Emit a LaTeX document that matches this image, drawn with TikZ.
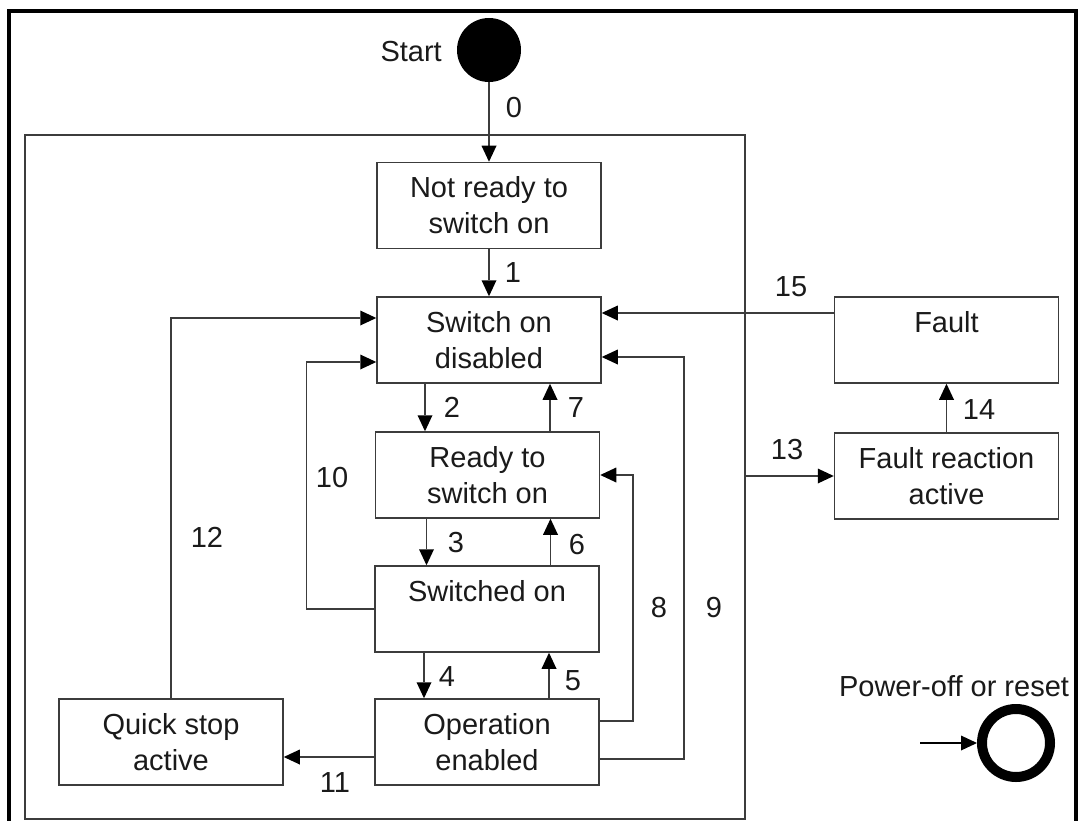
\documentclass[tikz,border=0pt]{standalone}
\usepackage{fontspec}
\setmainfont{Liberation Sans}
\usetikzlibrary{arrows.meta}
\definecolor{ln}{HTML}{3C3C3C}
\definecolor{tx}{HTML}{1A1A1A}
\tikzset{
  box/.style={draw=ln, line width=1.5pt, minimum width=224pt, minimum height=86pt,
    inner sep=0pt, align=center, text=tx, font=\fontsize{29}{36}\selectfont},
  arr/.style={draw=ln, line width=1.5pt, -{Triangle[length=16pt,width=15pt,fill=black,line width=0pt]}},
  lbl/.style={text=tx, font=\fontsize{29}{36}\selectfont, inner sep=0pt},
}
\begin{document}
\begin{tikzpicture}[x=1pt,y=-1pt]
\useasboundingbox (0,0) rectangle (1081,821);
\fill[white] (0,0) rectangle (1081,821);
% outer frame
\draw[line width=4pt] (9,830) -- (9,11) -- (1076,11) -- (1076,830);
% inner frame
\draw[ln, line width=1.5pt] (25,135) rectangle (745,819);
% start
\node[circle, fill=black, minimum size=64pt, inner sep=0pt] (start) at (489,50) {};
\node[lbl, anchor=east] (startlbl) at (442,52) {Start};
% boxes
\node[box] (nr) at (489,205.5) {Not ready to\\switch on};
\node[box] (sod) at (489,340) {Switch on\\disabled};
\node[box] (rts) at (487.5,475) {Ready to\\switch on};
\node[box] (so) at (487,609) {Switched on\\\mbox{}};
\node[box] (oe) at (487,742) {Operation\\enabled};
\node[box] (qsa) at (171,742) {Quick stop\\active};
\node[box] (fault) at (946.5,340) {Fault\\\mbox{}};
\node[box] (fra) at (946.5,476) {Fault reaction\\active};
% transitions
\draw[arr] (start) -- (nr.north);
\draw[arr] (nr.south) -- (nr.south |- sod.north);
\draw[arr] ([xshift=-64pt]sod.south) -- ([xshift=-64pt]sod.south |- rts.north);
\draw[arr] ([xshift=61pt]sod.south |- rts.north) -- ([xshift=61pt]sod.south);
\draw[arr] ([xshift=-61pt]rts.south) -- ([xshift=-61pt]rts.south |- so.north);
\draw[arr] ([xshift=63pt]rts.south |- so.north) -- ([xshift=63pt]rts.south);
\draw[arr] ([xshift=-63pt]so.south) -- ([xshift=-63pt]so.south |- oe.north);
\draw[arr] ([xshift=62pt]so.south |- oe.north) -- ([xshift=62pt]so.south);
\draw[arr] (so.west) -- ++(-68,0) |- ([yshift=-22pt]sod.west);
\draw[arr] (qsa.north) |- ([yshift=22pt]sod.west);
\draw[arr] ([yshift=-15pt]oe.west) -- ([yshift=-15pt]oe.west -| qsa.east);
\draw[arr] ([yshift=21pt]oe.east) -- ++(33,0) |- (rts.east);
\draw[arr] ([yshift=-17pt]oe.east) -- ++(84,0) |- ([yshift=-17pt]sod.east);
\draw[arr] ([yshift=27pt]fault.west) -- ([yshift=27pt]fault.west -| sod.east);
\coordinate (c13) at (745,476);
\draw[arr] (c13) -- (fra.west);
\draw[arr] (fra.north) -- (fault.south);
% labels
\node[lbl] (l0) at (514,108) {0};
\node[lbl] (l1) at (513,273) {1};
\node[lbl] (l2) at (452,407) {2};
\node[lbl] (l7) at (576,408) {7};
\node[lbl] (l3) at (456,543) {3};
\node[lbl] (l6) at (577,545) {6};
\node[lbl] (l4) at (447,677) {4};
\node[lbl] (l5) at (573,681) {5};
\node[lbl] (l10) at (332,478) {10};
\node[lbl] (l12) at (207,537) {12};
\node[lbl] (l8) at (659,608) {8};
\node[lbl] (l9) at (714,608) {9};
\node[lbl] (l11) at (335,783) {11};
\node[lbl] (l15) at (791,287) {15};
\node[lbl] (l13) at (787,450) {13};
\node[lbl] (l14) at (979,410) {14};
% power-off
\node[lbl] (pwrlbl) at (954,686) {Power-off or reset};
\node[circle, draw=black, line width=10pt, minimum size=68pt, inner sep=0pt] (pwr) at (1016,743) {};
\coordinate (cpwr) at (920,743);
\draw[arr, draw=black] (cpwr) -- (pwr.west);
\end{tikzpicture}
\end{document}
